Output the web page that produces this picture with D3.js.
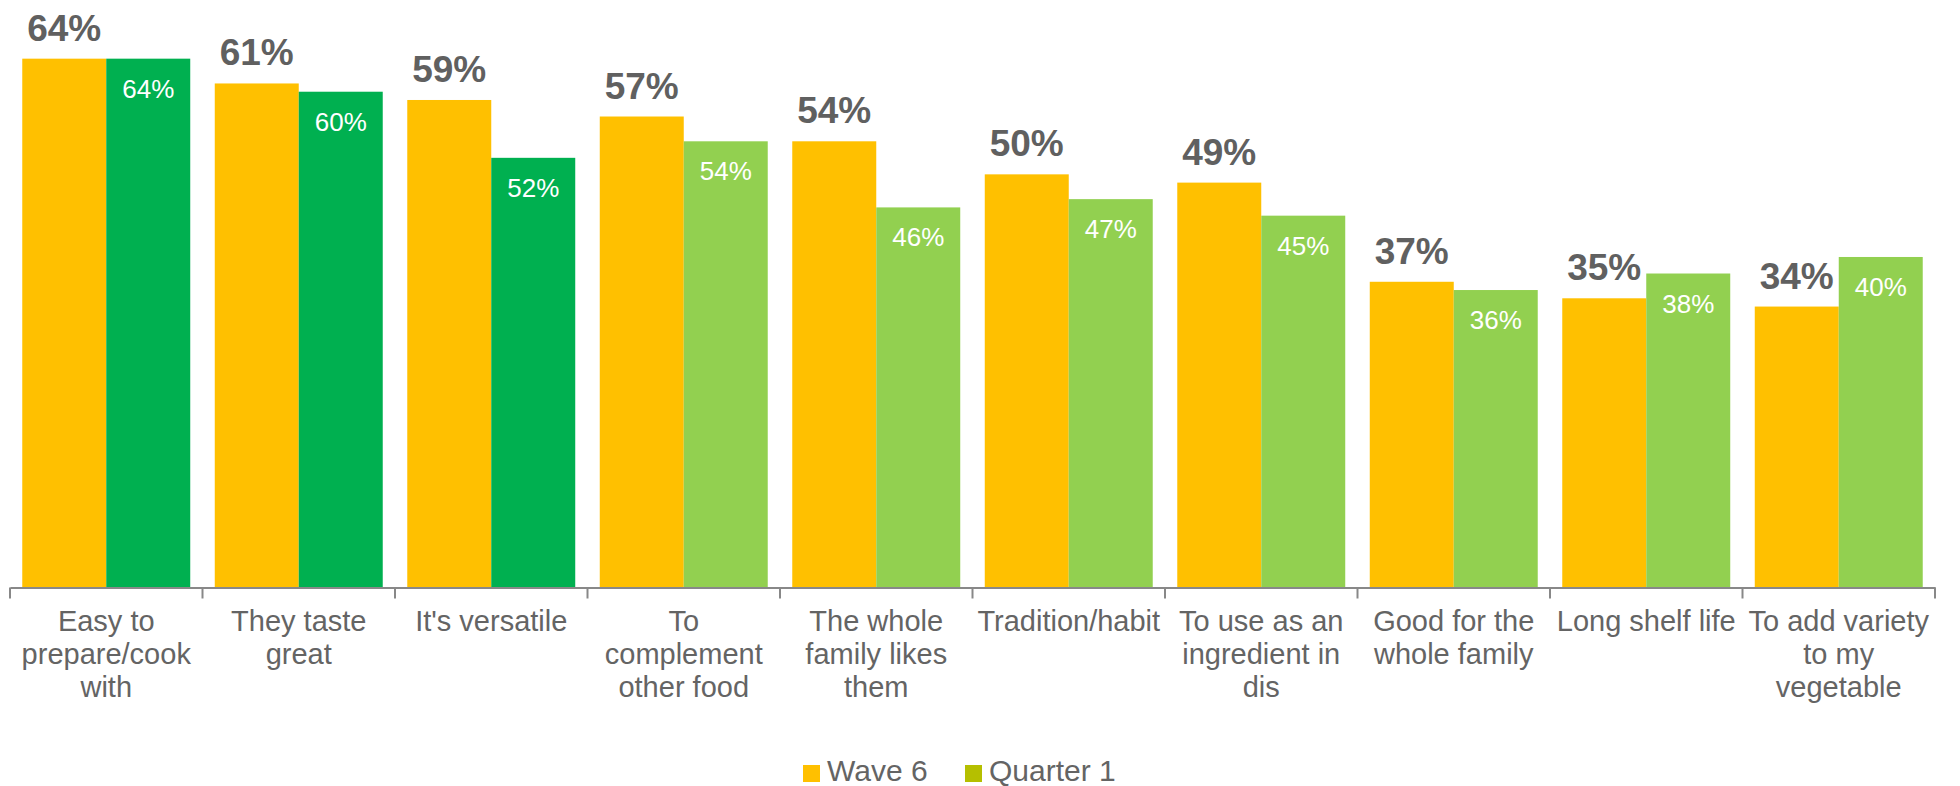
<!DOCTYPE html>
<html>
<head>
<meta charset="utf-8">
<script src="https://cdn.jsdelivr.net/npm/d3@7/dist/d3.min.js"></script>
<style>
  html, body { margin: 0; padding: 0; background: #ffffff; }
  svg { display: block; font-family: "Liberation Sans", Arial, sans-serif; }
</style>
</head>
<body>
<svg id="chart" width="1960" height="786"></svg>
<script>
// ---- data ----
const categories = [
  "Easy to prepare/cook with",
  "They taste great",
  "It's versatile",
  "To complement other food",
  "The whole family likes them",
  "Tradition/habit",
  "To use as an ingredient in dis",
  "Good for the whole family",
  "Long shelf life",
  "To add variety to my vegetable"
];
const tickLabelLines = [
  ["Easy to", "prepare/cook", "with"],
  ["They taste", "great"],
  ["It's versatile"],
  ["To", "complement", "other food"],
  ["The whole", "family likes", "them"],
  ["Tradition/habit"],
  ["To use as an", "ingredient in", "dis"],
  ["Good for the", "whole family"],
  ["Long shelf life"],
  ["To add variety", "to my", "vegetable"]
];
const seriesNames = ["Wave 6", "Quarter 1"];
const wave6 = [64, 61, 59, 57, 54, 50, 49, 37, 35, 34];
const quarter1 = [64, 60, 52, 54, 46, 47, 45, 36, 38, 40];
// per-bar colour of the Quarter 1 series (first three highlighted darker)
const quarter1Colors = ["#00B050", "#00B050", "#00B050", "#92D050", "#92D050", "#92D050", "#92D050", "#92D050", "#92D050", "#92D050"];
const wave6Color = "#FFC000";
const legendColors = ["#FFC000", "#B5BF00"];

// ---- layout ----
const svg = d3.select("#chart");
const plotLeft = 10, plotRight = 1935, axisY = 587.5;

const x0 = d3.scaleBand().domain(categories).range([plotLeft, plotRight]).padding(0);
const x1 = d3.scaleBand().domain(seriesNames).range([0, x0.bandwidth()]).paddingInner(0).paddingOuter(0.146);
const y = d3.scaleLinear().domain([0, 71.1]).range([axisY, 0]);

const rows = categories.map((c, i) => ({ cat: c, i, w: wave6[i], q: quarter1[i] }));

const g = svg.append("g");

// Wave 6 bars
g.selectAll("rect.w6").data(rows).enter().append("rect")
  .attr("class", "w6")
  .attr("x", d => x0(d.cat) + x1("Wave 6"))
  .attr("y", d => y(d.w))
  .attr("width", x1.bandwidth())
  .attr("height", d => y(0) - y(d.w))
  .attr("fill", wave6Color);

// Quarter 1 bars
g.selectAll("rect.q1").data(rows).enter().append("rect")
  .attr("class", "q1")
  .attr("x", d => x0(d.cat) + x1("Quarter 1"))
  .attr("y", d => y(d.q))
  .attr("width", x1.bandwidth())
  .attr("height", d => y(0) - y(d.q))
  .attr("fill", d => quarter1Colors[d.i]);

// Wave 6 labels (bold grey, above bar)
g.selectAll("text.lw").data(rows).enter().append("text")
  .attr("class", "lw")
  .attr("x", d => x0(d.cat) + x1("Wave 6") + x1.bandwidth() / 2)
  .attr("y", d => y(d.w) - 18)
  .attr("text-anchor", "middle")
  .attr("font-size", 37)
  .attr("font-weight", "bold")
  .attr("fill", "#606060")
  .text(d => d.w + "%");

// Quarter 1 labels (white, inside bar)
g.selectAll("text.lq").data(rows).enter().append("text")
  .attr("class", "lq")
  .attr("x", d => x0(d.cat) + x1("Quarter 1") + x1.bandwidth() / 2)
  .attr("y", d => y(d.q) + 39)
  .attr("text-anchor", "middle")
  .attr("font-size", 26)
  .attr("fill", "#ffffff")
  .text(d => d.q + "%");

// x axis
const axis = d3.axisBottom(x0).tickSize(0).tickFormat("");
const axG = svg.append("g").attr("transform", `translate(0,${axisY})`).call(axis);
axG.select(".domain").attr("stroke", "#888888").attr("stroke-width", 2);
// boundary ticks between categories
const boundaries = categories.map(c => x0(c)).concat([plotRight]);
axG.selectAll("line.bt").data(boundaries).enter().append("line")
  .attr("class", "bt")
  .attr("x1", d => d).attr("x2", d => d)
  .attr("y1", 0).attr("y2", 11)
  .attr("stroke", "#888888").attr("stroke-width", 2);

// category labels
const lab = svg.append("g").selectAll("text.cat").data(rows).enter().append("text")
  .attr("class", "cat")
  .attr("text-anchor", "middle")
  .attr("font-size", 29)
  .attr("fill", "#646464")
  .attr("x", d => x0(d.cat) + x0.bandwidth() / 2)
  .attr("y", 631);
lab.selectAll("tspan").data(d => tickLabelLines[d.i].map(t => ({ t, x: x0(d.cat) + x0.bandwidth() / 2 })))
  .enter().append("tspan")
  .attr("x", d => d.x)
  .attr("dy", (d, j) => j === 0 ? 0 : 33)
  .text(d => d.t);

// legend
const legendX = [803, 965];
const leg = svg.append("g");
seriesNames.forEach((s, i) => {
  leg.append("rect")
    .attr("x", legendX[i]).attr("y", 765)
    .attr("width", 17).attr("height", 17)
    .attr("fill", legendColors[i]);
  leg.append("text")
    .attr("x", legendX[i] + 24).attr("y", 781)
    .attr("font-size", 30)
    .attr("fill", "#646464")
    .text(s);
});
</script>
</body>
</html>
